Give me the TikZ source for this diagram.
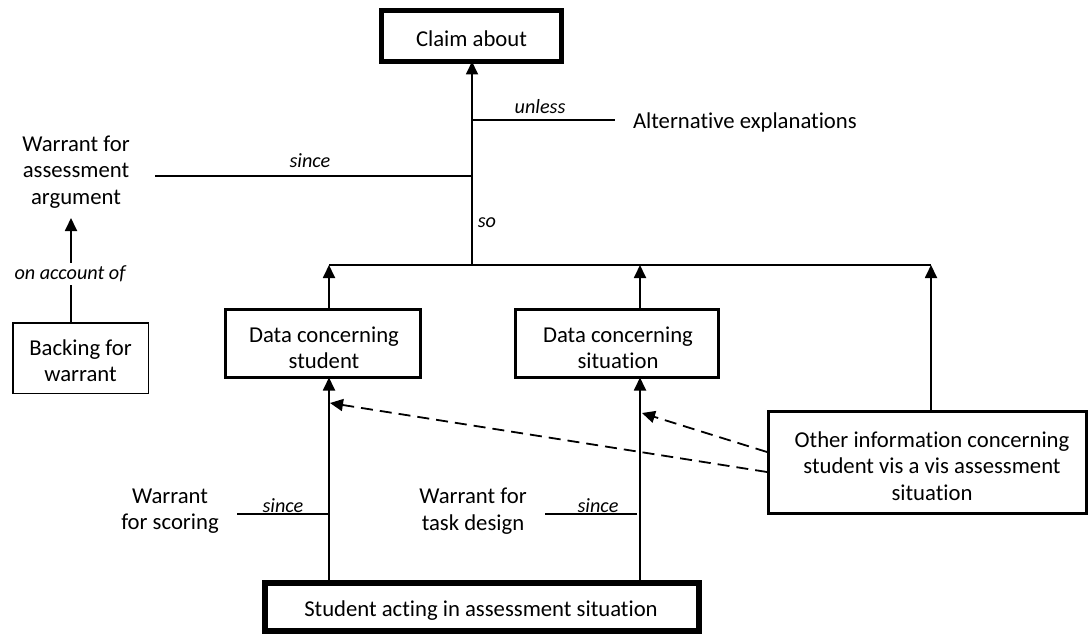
\documentclass[tikz,border=0pt]{standalone}
\usepackage{fontspec}
\setmainfont{Carlito}[Ligatures={NoCommon}]
\usetikzlibrary{arrows.meta}
\begin{document}
\begin{tikzpicture}[x=1pt,y=-1pt,
  every node/.style={inner sep=0pt,outer sep=0pt},
  main/.style={font=\fontsize{22.7}{26.5}\selectfont,align=center},
  lab/.style={font=\fontsize{20.2}{24}\selectfont\itshape},
  box/.style={draw,fill=white},
  ln/.style={line width=1.8pt},
  arr/.style={ln,-{Triangle[length=13pt,width=12pt]}},
  darr/.style={arr,dash pattern=on 12pt off 7pt}]
\useasboundingbox (0,0) rectangle (1090,634);
% boxes
\node[box,line width=5pt,minimum width=180pt,minimum height=51pt] (claim) at (471.5,36) {};
\node[main] (claimt) at (471.5,38.5) {Claim about};
\node[box,line width=3pt,minimum width=195pt,minimum height=68pt] (ds) at (323,343.5) {};
\node[main] (dst) at (324,348) {Data concerning\\student};
\node[box,line width=3pt,minimum width=203pt,minimum height=68pt] (dsit) at (617,343.5) {};
\node[main] (dsitt) at (618,348) {Data concerning\\situation};
\node[box,line width=3pt,minimum width=318pt,minimum height=102pt] (other) at (927.5,462.5) {};
\node[main] (othert) at (932,466) {Other information concerning\\student vis a vis assessment\\situation};
\node[box,line width=6pt,minimum width=434pt,minimum height=48pt] (act) at (482,607) {};
\node[main] (actt) at (481,611) {Student acting in assessment situation};
\node[box,line width=1.5pt,minimum width=135.5pt,minimum height=70.5pt] (back) at (80.5,358) {};
\node[main] (backt) at (80.5,360.5) {Backing for\\warrant};
% text nodes
\node[main,anchor=west] (alt) at (633,122) {Alternative explanations};
\node[main] (wa) at (76,172) {Warrant for\\assessment\\argument};
\node[main] (ws) at (170,511) {Warrant\\for scoring};
\node[main] (wt) at (473,511) {Warrant for\\task design};
% coordinates
\coordinate (so) at (472,265);
\coordinate (hl) at (329,265);
\coordinate (hr) at (931,265);
\coordinate (un) at (472,120);
\coordinate (une) at (615,120);
\coordinate (si) at (472,176);
\coordinate (sie) at (155,176);
\coordinate (wtip) at (71,218);
\coordinate (bt) at (71,322);
\coordinate (s1a) at (329,514);
\coordinate (s1b) at (237,514);
\coordinate (s2a) at (637,514);
\coordinate (s2b) at (545,514);
\coordinate (d1) at (330,403);
\coordinate (d2) at (642,413);
\coordinate (o1) at (767,472);
\coordinate (o2) at (767,452);
% main spine
\draw[arr] (so) -- (claim.south -| so);
\draw[ln] (hl) -- (hr);
\draw[ln] (un) -- (une);
\draw[ln] (si) -- (sie);
\node[lab] (unl) at (540,107) {unless};
\node[lab] (sil) at (310,161) {since};
\node[lab] (sol) at (487,223) {so};
% data arrows to horizontal line
\draw[arr] (ds.north -| hl) -- (hl);
\draw[arr] (dsit.north -| 640,0) -- (640,265);
\draw[arr] (other.north -| hr) -- (hr);
% backing
\draw[arr] (bt) -- (wtip);
\node[lab,fill=white,inner ysep=3pt] (oa) at (70,274) {on account of};
% from student acting
\draw[arr] (act.north -| hl) -- (ds.south -| hl);
\draw[arr] (act.north -| 640,0) -- (dsit.south -| 640,0);
\draw[ln] (s1a) -- (s1b);
\draw[ln] (s2a) -- (s2b);
\node[lab] (sl1) at (283,506) {since};
\node[lab] (sl2) at (598,506) {since};
% dashed
\draw[darr] (o1) -- (d1);
\draw[darr] (o2) -- (d2);
\end{tikzpicture}
\end{document}
